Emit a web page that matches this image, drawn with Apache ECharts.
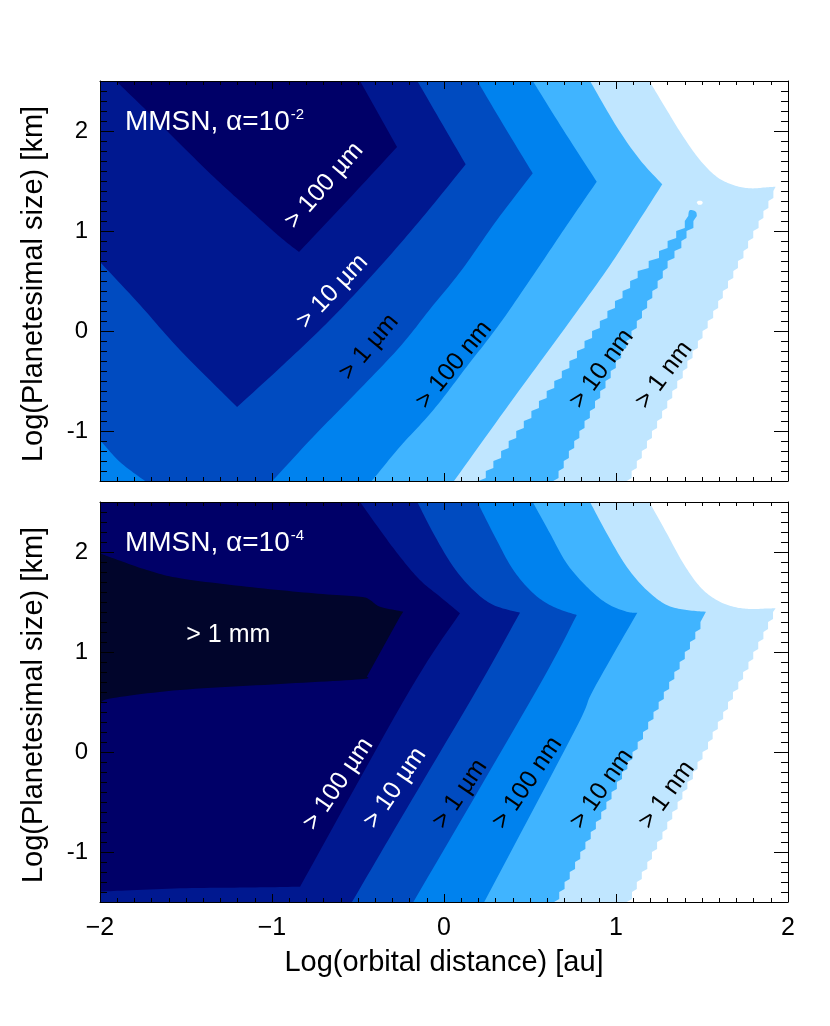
<!DOCTYPE html>
<html>
<head>
<meta charset="utf-8">
<script src="https://cdn.jsdelivr.net/npm/echarts@6/dist/echarts.min.js"></script>
<style>
html,body{margin:0;padding:0;background:#ffffff;}
#chart{width:830px;height:1026px;}
</style>
</head>
<body>
<div id="chart"></div>
<script>
// ================= DATA =================
// x = log10(orbital distance / au), y = log10(planetesimal size / km)
const levelNames  = ['> 1 nm', '> 10 nm', '> 100 nm', '> 1 µm', '> 10 µm', '> 100 µm', '> 1 mm'];
const levelColors = ['#c0e6ff', '#40b4ff', '#0082ee', '#004bc0', '#001890', '#000068', '#01052b'];
const xTickValues = [-2, -1, 0, 1, 2];
const yTickValues = [-1, 0, 1, 2];
const xRange = [-2, 2];
const yRange = [-1.5, 2.5];

// ---------- top panel (alpha = 1e-2) : contour boundaries ----------
const topL1Curve = [[1.194,2.5],[1.295,2.21],[1.391,1.943],[1.488,1.71],[1.585,1.543],[1.682,1.46],[1.779,1.427],[1.876,1.437],[1.928,1.443]];
const topL1Rows = [[1.915,1.4],[1.886,1.3],[1.857,1.2],[1.829,1.1],[1.798,1.0],[1.768,0.9],[1.741,0.8],[1.709,0.7],[1.682,0.6],[1.651,0.5],[1.621,0.4],[1.594,0.3],[1.565,0.2],[1.533,0.1],[1.503,0.0],[1.476,-0.1],[1.445,-0.2],[1.415,-0.3],[1.388,-0.4],[1.356,-0.5],[1.327,-0.6],[1.298,-0.7],[1.268,-0.8],[1.239,-0.9],[1.209,-1.0],[1.180,-1.1],[1.150,-1.2],[1.121,-1.3],[1.091,-1.4],[1.062,-1.5]];
const topHole   = [[1.469,1.285],[1.477,1.300],[1.494,1.302],[1.504,1.287],[1.497,1.265],[1.478,1.262]];
const topL2Upper = [[0.849,2.5],[1.004,2.043],[1.140,1.71],[1.269,1.467]];
const topL2Lower = [[1.269,1.467],[1.110,1.04],[0.946,0.61],[0.674,-0.04],[0.384,-0.72],[0.058,-1.5]];
const topStripCap   = [[1.42,1.15],[1.425,1.20],[1.44,1.21],[1.465,1.19],[1.47,1.15]];
const topStripRight = [[1.45,1.1],[1.41,1.0],[1.38,0.9],[1.34,0.8],[1.30,0.7],[1.272,0.6],[1.242,0.5],[1.211,0.4],[1.181,0.3],[1.151,0.2],[1.121,0.1],[1.090,0.0],[1.060,-0.1],[1.030,-0.2],[0.999,-0.3],[0.969,-0.4],[0.939,-0.5],[0.908,-0.6],[0.878,-0.7],[0.848,-0.8],[0.817,-0.9],[0.787,-1.0],[0.757,-1.1],[0.726,-1.2],[0.696,-1.3],[0.666,-1.4],[0.635,-1.5]];
const topStripLeft  = [[1.40,1.1],[1.35,1.0],[1.30,0.9],[1.25,0.8],[1.19,0.7],[1.126,0.6],[1.082,0.5],[1.038,0.4],[0.994,0.3],[0.950,0.2],[0.906,0.1],[0.861,0.0],[0.817,-0.1],[0.773,-0.2],[0.729,-0.3],[0.685,-0.4],[0.641,-0.5],[0.597,-0.6],[0.552,-0.7],[0.508,-0.8],[0.464,-0.9],[0.420,-1.0],[0.376,-1.1],[0.332,-1.2],[0.287,-1.3],[0.243,-1.4],[0.199,-1.5]];
const topL3Upper = [[0.516,2.5],[0.694,2.01],[0.888,1.493]];
const topL3Lower = [[0.888,1.493],[0.715,1.06],[0.539,0.61],[0.326,0.077],[0.132,-0.357],[-0.062,-0.79],[-0.256,-1.157],[-0.420,-1.5]];
const topL4Upper = [[0.194,2.5],[0.349,2.05],[0.516,1.577]];
const topL4Lower = [[0.516,1.577],[0.308,1.11],[0.103,0.61],[-0.076,0.23],[-0.256,-0.157],[-0.506,-0.61],[-0.760,-1.057],[-0.998,-1.5]];
const topL4Corner = [[-1.738,-1.5],[-1.884,-1.31],[-2,-1.09]];
const topL5Upper = [[-0.155,2.5],[-0.017,2.09],[0.126,1.667]];
const topL5Lower = [[0.126,1.667],[-0.128,1.13],[-0.390,0.61],[-0.663,0.11],[-0.936,-0.34],[-1.203,-0.76]];
const topL5Left  = [[-1.203,-0.76],[-1.535,-0.19],[-1.767,0.26],[-2,0.69]];
const topL6Left  = [[-1.907,2.5],[-1.709,2.17],[-1.517,1.84],[-1.320,1.51],[-1.128,1.21],[-0.953,0.94],[-0.843,0.79]];
const topL6Right = [[-0.843,0.79],[-0.558,1.31],[-0.273,1.84]];
const topL6Top   = [[-0.273,1.84],[-0.488,2.5]];

// ---------- bottom panel (alpha = 1e-4) : contour boundaries ----------
const botL1Curve = [[1.194,2.5],[1.295,2.187],[1.391,1.887],[1.488,1.653],[1.585,1.52],[1.682,1.453],[1.779,1.43],[1.876,1.435],[1.928,1.437]];
const botL1Rows = [[1.913,1.4],[1.884,1.3],[1.857,1.2],[1.827,1.1],[1.798,1.0],[1.770,0.9],[1.739,0.8],[1.711,0.7],[1.680,0.6],[1.651,0.5],[1.623,0.4],[1.592,0.3],[1.562,0.2],[1.535,0.1],[1.503,0.0],[1.474,-0.1],[1.447,-0.2],[1.415,-0.3],[1.386,-0.4],[1.358,-0.5],[1.327,-0.6],[1.298,-0.7],[1.270,-0.8],[1.239,-0.9],[1.209,-1.0],[1.182,-1.1],[1.150,-1.2],[1.121,-1.3],[1.093,-1.4],[1.062,-1.5]];
const botL2Curve = [[0.849,2.5],[0.946,2.187],[1.062,1.853],[1.178,1.62],[1.295,1.47],[1.411,1.42],[1.523,1.403]];
const botL2Rows = [[1.491,1.3],[1.461,1.2],[1.430,1.1],[1.400,1.0],[1.370,0.9],[1.339,0.8],[1.309,0.7],[1.278,0.6],[1.248,0.5],[1.218,0.4],[1.187,0.3],[1.157,0.2],[1.126,0.1],[1.096,0.0],[1.066,-0.1],[1.035,-0.2],[1.005,-0.3],[0.974,-0.4],[0.944,-0.5],[0.914,-0.6],[0.883,-0.7],[0.853,-0.8],[0.822,-0.9],[0.792,-1.0],[0.762,-1.1],[0.731,-1.2],[0.701,-1.3],[0.670,-1.4],[0.640,-1.5]];
const botL3Upper = [[0.516,2.5],[0.616,2.187],[0.713,1.887],[0.830,1.653],[0.946,1.487],[1.062,1.403],[1.124,1.393]];
const botL3Lower = [[1.124,1.393],[0.868,0.62],[0.762,0.22],[0.234,-1.5]];
const botL4Upper = [[0.194,2.5],[0.306,2.12],[0.403,1.82],[0.519,1.587],[0.635,1.453],[0.772,1.37]];
const botL4Lower = [[0.772,1.37],[0.539,0.62],[-0.178,-1.5]];
const botL5Upper = [[-0.155,2.5],[-0.062,2.187],[0.054,1.853],[0.170,1.62],[0.287,1.47],[0.442,1.393]];
const botL5Lower = [[0.442,1.393],[0.190,0.62],[-0.256,-0.68],[-0.535,-1.5]];
const botL6Upper = [[-0.488,2.5],[-0.372,2.22],[-0.256,1.953],[-0.140,1.72],[-0.023,1.553],[0.093,1.387]];
const botL6Lower = [[0.093,1.387],[-0.198,0.62],[-0.837,-1.347]];
const botL6Bottom = [[-0.837,-1.347],[-1.128,-1.355],[-1.535,-1.363],[-1.923,-1.39],[-2,-1.397]];
const botL7Top    = [[-2,1.987],[-1.923,1.937],[-1.728,1.82],[-1.535,1.737],[-1.147,1.653],[-0.760,1.587],[-0.488,1.553],[-0.430,1.52],[-0.372,1.453],[-0.237,1.403]];
const botL7Right  = [[-0.237,1.403],[-0.256,1.353],[-0.449,0.753]];
const botL7Bottom = [[-0.449,0.753],[-0.488,0.727],[-0.953,0.68],[-1.535,0.62],[-1.923,0.54],[-2,0.49]];

// ---------- annotations ----------
const topTitle = ['MMSN, α=10', '-2'];
const botTitle = ['MMSN, α=10', '-4'];
const topLabels = [
  {text: '> 100 µm', at: [-0.697, 1.452], angle: 49, dark: false},
  {text: '> 10 µm',  at: [-0.648, 0.395], angle: 47, dark: false},
  {text: '> 1 µm',   at: [-0.436, -0.16], angle: 50, dark: true},
  {text: '> 100 nm', at: [0.058, -0.34],  angle: 51, dark: true},
  {text: '> 10 nm',  at: [0.917, -0.38],  angle: 54, dark: true},
  {text: '> 1 nm',   at: [1.279, -0.44],  angle: 53, dark: true}
];
const botLabels = [
  {text: '> 1 mm',   at: [-1.254, 1.17],  angle: 0,  dark: false},
  {text: '> 100 µm', at: [-0.615, -0.32], angle: 56, dark: false},
  {text: '> 10 µm',  at: [-0.285, -0.36], angle: 56, dark: false},
  {text: '> 1 µm',   at: [0.093, -0.42],  angle: 56, dark: true},
  {text: '> 100 nm', at: [0.485, -0.31],  angle: 56, dark: true},
  {text: '> 10 nm',  at: [0.917, -0.37],  angle: 55, dark: true},
  {text: '> 1 nm',   at: [1.295, -0.43],  angle: 54, dark: true}
];

// ================= BUILD =================
const FONT = '"Liberation Sans", Arial, Helvetica, sans-serif';
const TL = [xRange[0], yRange[1]], BL = [xRange[0], yRange[0]];
const TOOTH = 0.07; // vertical part of each grid-row step (style)

function saw(rows) {
  const out = [];
  rows.forEach((p, k) => {
    out.push([p[0], p[1]]);
    if (k < rows.length - 1) out.push([p[0], p[1] - TOOTH]);
  });
  return out;
}
// piece kinds: 'line' straight segments, 'curve' smooth curve through points
const line  = pts => ({kind: 'line', pts});
const curve = pts => ({kind: 'curve', pts});
const steps = rows => ({kind: 'line', pts: saw(rows)});
const stepsUp = rows => ({kind: 'line', pts: saw(rows).reverse()});
const region = (color, ...pieces) => ({color, pieces});

const C = levelColors;
const topRegions = [
  region(C[0], line([TL]), curve(topL1Curve), steps(topL1Rows), line([BL])),
  region('#ffffff', curve(topHole)),
  region(C[1], line([TL]), curve(topL2Upper), curve(topL2Lower), line([BL])),
  region(C[1], curve(topStripCap), steps(topStripRight), stepsUp(topStripLeft)),
  region(C[2], line([TL]), curve(topL3Upper), curve(topL3Lower), line([BL])),
  region(C[3], line([TL]), curve(topL4Upper), curve(topL4Lower), curve(topL4Corner)),
  region(C[4], line([TL]), curve(topL5Upper), curve(topL5Lower), curve(topL5Left)),
  region(C[5], curve(topL6Left), curve(topL6Right), line(topL6Top))
];
const botRegions = [
  region(C[0], line([TL]), curve(botL1Curve), steps(botL1Rows), line([BL])),
  region(C[1], line([TL]), curve(botL2Curve), steps(botL2Rows), line([BL])),
  region(C[2], line([TL]), curve(botL3Upper), curve(botL3Lower), line([BL])),
  region(C[3], line([TL]), curve(botL4Upper), curve(botL4Lower), line([BL])),
  region(C[4], line([TL]), curve(botL5Upper), curve(botL5Lower), line([BL])),
  region(C[5], line([TL]), curve(botL6Upper), curve(botL6Lower), curve(botL6Bottom)),
  region(C[6], curve(botL7Top), line(botL7Right), curve(botL7Bottom))
];

// Catmull-Rom rendering of a smooth boundary (in pixel space)
function smoothPixels(px) {
  if (px.length < 3) return px.slice();
  const out = [px[0]];
  const N = 12;
  for (let i = 0; i < px.length - 1; i++) {
    const p0 = px[Math.max(0, i - 1)], p1 = px[i], p2 = px[i + 1], p3 = px[Math.min(px.length - 1, i + 2)];
    for (let s = 1; s <= N; s++) {
      const t = s / N, t2 = t * t, t3 = t2 * t;
      const f = (a, b, c, d) => 0.5 * ((2 * b) + (-a + c) * t + (2 * a - 5 * b + 4 * c - d) * t2 + (-a + 3 * b - 3 * c + d) * t3);
      out.push([f(p0[0], p1[0], p2[0], p3[0]), f(p0[1], p1[1], p2[1], p3[1])]);
    }
  }
  return out;
}

function regionSeries(regions, g) {
  return {
    type: 'custom', xAxisIndex: g * 2, yAxisIndex: g * 4, clip: true, z: 2, silent: true,
    data: regions.map(() => [0, 0]),
    renderItem: function (params, api) {
      const r = regions[params.dataIndex];
      let pts = [];
      r.pieces.forEach(pc => {
        const px = pc.pts.map(p => api.coord(p));
        pts = pts.concat(pc.kind === 'curve' ? smoothPixels(px) : px);
      });
      return {type: 'polygon', shape: {points: pts}, style: {fill: r.color, stroke: null}};
    }
  };
}
function labelSeries(labels, title, g) {
  return {
    type: 'custom', xAxisIndex: g * 2, yAxisIndex: g * 4, clip: false, z: 3, silent: true,
    data: labels.map(() => [0, 0]).concat([[0, 0]]),
    renderItem: function (params, api) {
      if (params.dataIndex === labels.length) {
        const p = api.coord([-1.855, 2.09]);
        return {type: 'text', x: p[0], y: p[1],
          style: {text: '{a|' + title[0] + '}{b|' + title[1] + '}', align: 'left', verticalAlign: 'middle',
            rich: {a: {fontSize: 28, fontFamily: FONT, fill: '#fff', lineHeight: 32},
                   b: {fontSize: 15, fontFamily: FONT, fill: '#fff', verticalAlign: 'top', lineHeight: 15, padding: [1, 0, 0, 1]}}}};
      }
      const L = labels[params.dataIndex];
      const p = api.coord(L.at);
      return {type: 'text', x: p[0], y: p[1], rotation: L.angle * Math.PI / 180,
        style: {text: L.text, fill: L.dark ? '#000' : '#fff', font: '25px ' + FONT,
                align: 'center', verticalAlign: 'middle'}};
    }
  };
}

const axisLineStyle = {color: '#000', width: 1};
function xAxes(g) {
  const base = {gridIndex: g, type: 'value', min: xRange[0], max: xRange[1], interval: 1, z: 10,
    axisLine: {show: true, onZero: false, lineStyle: axisLineStyle},
    axisTick: {show: true, inside: true, length: 8, lineStyle: axisLineStyle},
    minorTick: {show: true, splitNumber: 10, length: 4, lineStyle: axisLineStyle},
    splitLine: {show: false}, minorSplitLine: {show: false}};
  return [
    Object.assign({}, base, {position: 'bottom',
      axisLabel: {show: g === 1, margin: 14, fontSize: 25, fontFamily: FONT, color: '#000',
        formatter: v => (v < 0 ? '\u2212' + Math.abs(v) : String(v))}}),
    Object.assign({}, base, {position: 'top', axisLabel: {show: false}})
  ];
}
function yAxes(g) {
  const base = {gridIndex: g, type: 'value', min: yRange[0], max: yRange[1], z: 10, splitLine: {show: false}};
  const minor = side => Object.assign({}, base, {position: side, interval: 0.1,
    axisLine: {show: true, onZero: false, lineStyle: axisLineStyle},
    axisTick: {show: true, inside: true, length: 7, lineStyle: axisLineStyle},
    axisLabel: {show: false}});
  const major = (side, lab) => Object.assign({}, base, {position: side,
    axisLine: {show: false, onZero: false},
    axisTick: {show: true, inside: true, length: 14, customValues: yTickValues, lineStyle: axisLineStyle},
    axisLabel: {show: lab, customValues: yTickValues, margin: 12, fontSize: 24, fontFamily: FONT, color: '#000'}});
  return [minor('left'), major('left', true), minor('right'), major('right', false)];
}

const option = {
  backgroundColor: '#ffffff',
  animation: false,
  grid: [
    {left: 100, top: 81, width: 688, height: 400},
    {left: 100, top: 502, width: 688, height: 400}
  ],
  xAxis: [...xAxes(0), ...xAxes(1)],
  yAxis: [...yAxes(0), ...yAxes(1)],
  series: [regionSeries(topRegions, 0), regionSeries(botRegions, 1),
           labelSeries(topLabels, topTitle, 0), labelSeries(botLabels, botTitle, 1)],
  graphic: [
    {type: 'text', x: 34, y: 284, rotation: Math.PI / 2,
     style: {text: 'Log(Planetesimal size) [km]', font: '29px ' + FONT, fill: '#000', align: 'center', verticalAlign: 'middle'}},
    {type: 'text', x: 34, y: 705, rotation: Math.PI / 2,
     style: {text: 'Log(Planetesimal size) [km]', font: '29px ' + FONT, fill: '#000', align: 'center', verticalAlign: 'middle'}},
    {type: 'text', x: 444, y: 963,
     style: {text: 'Log(orbital distance) [au]', font: '29px ' + FONT, fill: '#000', align: 'center', verticalAlign: 'middle'}}
  ]
};

const chart = echarts.init(document.getElementById('chart'), null, {renderer: 'canvas'});
chart.setOption(option);
</script>
</body>
</html>
